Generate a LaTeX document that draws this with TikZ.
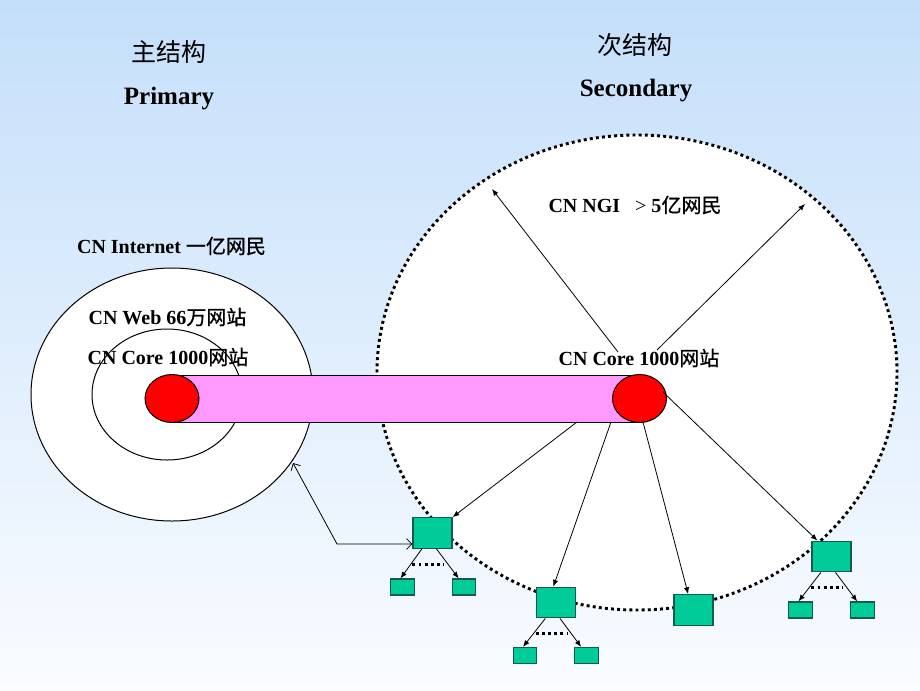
\documentclass[tikz,border=0pt]{standalone}
\usepackage{fontspec}
\setmainfont{Liberation Serif}
\newfontfamily\cjk{Noto Sans CJK SC}
\newfontfamily\cjkl[FakeBold=0.8]{Noto Sans CJK SC}
\usetikzlibrary{shapes.geometric,arrows.meta,calc}
\definecolor{bgtop}{RGB}{196,223,250}
\definecolor{bgbot}{RGB}{250,252,255}
\definecolor{pinkbar}{RGB}{255,153,255}
\definecolor{boxgreen}{RGB}{0,204,153}
\definecolor{boxedge}{RGB}{20,90,80}
\begin{document}
\begin{tikzpicture}[x=0.75pt,y=-0.75pt,
  ring/.style={ellipse,draw,fill=white,inner sep=0pt,line width=0.75pt},
  redcore/.style={ellipse,draw,fill=red,line width=0.75pt,minimum width=40.5pt,minimum height=36pt,inner sep=0pt},
  bigbox/.style={rectangle,draw=boxedge,fill=boxgreen,line width=0.9pt,minimum width=29.25pt,minimum height=23pt,inner sep=0pt},
  smallbox/.style={rectangle,draw=boxedge,fill=boxgreen,line width=0.9pt,minimum width=17.6pt,minimum height=12pt,inner sep=0pt},
  lab/.style={font=\fontsize{15pt}{18pt}\selectfont\bfseries,inner sep=0pt},
  titlezh/.style={font=\fontsize{18.75pt}{22pt}\selectfont,inner sep=0pt},
  titleen/.style={font=\fontsize{18.75pt}{22pt}\selectfont\bfseries,inner sep=0pt},
  link/.style={line width=0.6pt,-{Latex[length=5pt,width=4pt]}},
  dots/.style={line width=2.2pt,dash pattern=on 2.2pt off 2.4pt},
  barb/.style={line width=0.6pt,{Straight Barb[length=4pt,width=8pt]}-{Straight Barb[length=4pt,width=8pt]}},
]
\newcommand\zhl[1]{{\mdseries\cjkl #1}}
\shade[top color=bgtop,bottom color=bgbot] (0,0) rectangle (920,690);
\useasboundingbox (0,0) rectangle (920,690);

% secondary structure
\node[ring,dots,minimum width=390pt,minimum height=356.25pt] (sec) at (637,372.5) {};
% primary structure
\node[ring,minimum width=211.5pt,minimum height=189.75pt] (inet) at (172,394.5) {};
\node[ring,minimum width=112.5pt,minimum height=98.25pt] (web) at (167,394.5) {};

% link bar
\node[rectangle,draw,fill=pinkbar,line width=0.75pt,minimum width=350.25pt,minimum height=35.25pt,inner sep=0pt] (bar) at (405.5,398.5) {};
\node[redcore] (lc) at (172,398.5) {};
\node[redcore] (rc) at (639.5,398.5) {};

% titles
\node[titlezh] (tzh1) at (169,52) {\cjk 主结构};
\node[titleen] (ten1) at (169,99) {Primary};
\node[titlezh] (tzh2) at (635,45) {\cjk 次结构};
\node[titleen] (ten2) at (636,91) {Secondary};

% labels
\node[lab] (linet) at (171.5,246) {CN Internet \zhl{一亿网民}};
\node[lab] (lweb) at (167.5,317) {CN Web 66\zhl{万网站}};
\node[lab] (lcore) at (168,357) {CN Core 1000\zhl{网站}};
\node[lab] (rcore) at (639,358) {CN Core 1000\zhl{网站}};
\node[lab] (ngi) at (635,205) {CN NGI\hspace{0.75em}{\mdseries >} 5\zhl{亿网民}};

% upward arrows
\coordinate (u1) at (618,352);
\coordinate (v1) at (492,189);
\coordinate (u2) at (657,350);
\coordinate (v2) at (805,204);
\draw[link] (u1) -- (v1);
\draw[link] (u2) -- (v2);

% boxes
\node[bigbox] (b1) at (432.5,533) {};
\node[bigbox] (b2) at (556,602.5) {};
\node[bigbox] (b3) at (693.5,610) {};
\node[bigbox] (b4) at (831.5,556.5) {};

\node[smallbox] (c1l) at (402.5,587) {};
\node[smallbox] (c1r) at (464,587) {};
\node[smallbox] (c2l) at (525,655.5) {};
\node[smallbox] (c2r) at (586.5,655.5) {};
\node[smallbox] (c4l) at (800.5,610) {};
\node[smallbox] (c4r) at (862.5,610) {};

% downward arrows from core
\coordinate (s1) at (577,422);
\coordinate (s2) at (611,422);
\coordinate (s3) at (643,422);
\coordinate (s4) at (663,392);
\draw[link] (s1) -- (b1.north east);
\draw[link] (s2) -- ([xshift=-2pt]b2.north);
\draw[link] (s3) -- ([xshift=-4pt]b3.north);
\draw[link] (s4) -- ([xshift=4.5pt]b4.north west);

% sub trees
\foreach \b/\l/\r in {b1/c1l/c1r,b2/c2l/c2r,b4/c4l/c4r}{
  \draw[link] ([xshift=-8pt]\b.south) -- ([xshift=-1.5pt]\l.north);
  \draw[link] ([xshift=3pt]\b.south) -- ([xshift=-4pt]\r.north);
  \draw[dots] ($(\b.south west)+(0,15.5)$) -- ++(31,0);
}

% link back to primary
\coordinate (k) at (337,544);
\coordinate (q) at (293,463);
\draw[barb] (q) -- (k) -- (b1.west |- k);
\end{tikzpicture}
\end{document}
